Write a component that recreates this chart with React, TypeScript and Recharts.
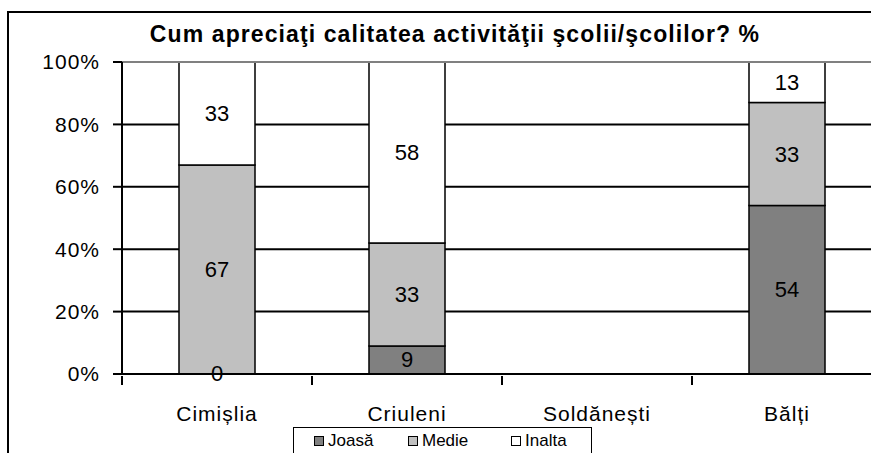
import { Bar, BarChart, CartesianGrid, LabelList, ReferenceLine, XAxis, YAxis } from "recharts";

const categories = ["Cimișlia", "Criuleni", "Soldănești", "Bălți"];
const joasa = [0, 9, null, 54];
const medie = [67, 33, null, 33];
const inalta = [33, 58, null, 13];
const yTicks = [0, 20, 40, 60, 80, 100];

const SERIES = [
  { key: "joasa", name: "Joasă", color: "#808080" },
  { key: "medie", name: "Medie", color: "#C0C0C0" },
  { key: "inalta", name: "Inalta", color: "#FFFFFF" },
];

const data = categories.map((name, i) => ({
  name,
  joasa: joasa[i],
  medie: medie[i],
  inalta: inalta[i],
}));

const FONT = "Arial, 'Liberation Sans', sans-serif";
const CHART_W = 900;
const PLOT_LEFT = 122;
const PLOT_RIGHT = 18;
const BAND = (CHART_W - PLOT_LEFT - PLOT_RIGHT) / categories.length;

function CategoryTick(props: any) {
  const { x, y, payload } = props;
  return (
    <g>
      <line x1={x - BAND / 2} y1={y} x2={x - BAND / 2} y2={y + 9} stroke="#000" strokeWidth={2} />
      <text
        x={x}
        y={y + 45}
        textAnchor="middle"
        fontFamily={FONT}
        fontSize={21}
        letterSpacing={1}
        fill="#000"
      >
        {payload.value}
      </text>
    </g>
  );
}

function renderLabel(props: any) {
  const { x, y, width, height, value } = props;
  if (value === null || value === undefined) return null;
  return (
    <text
      x={x + width / 2}
      y={y + height / 2}
      textAnchor="middle"
      dominantBaseline="central"
      fontFamily={FONT}
      fontSize={22}
      fill="#000"
    >
      {value}
    </text>
  );
}

// zero-valued segments still need a rect so their label gets drawn
const tinyForZero = (v: any) => (v === 0 ? 0.01 : 0);

export default function App() {
  return (
    <div
      style={{
        position: "absolute",
        left: 0,
        top: 0,
        width: 871,
        height: 453,
        overflow: "hidden",
        background: "#fff",
        fontFamily: FONT,
      }}
    >
      <div
        style={{
          position: "absolute",
          left: 7,
          top: 11,
          width: 950,
          height: 500,
          border: "2px solid #000",
          boxSizing: "border-box",
        }}
      />
      <div
        style={{
          position: "absolute",
          left: 455,
          top: 23,
          transform: "translateX(-50%)",
          whiteSpace: "nowrap",
          fontSize: 23,
          lineHeight: "23px",
          fontWeight: "bold",
          letterSpacing: 1.1,
        }}
      >
        Cum apreciaţi calitatea activităţii şcolii/şcolilor? %
      </div>
      <div style={{ position: "absolute", left: 0, top: 0 }}>
        <BarChart
          width={CHART_W}
          height={460}
          data={data}
          margin={{ top: 62, right: PLOT_RIGHT, bottom: 56, left: 0 }}
        >
          <CartesianGrid vertical={false} stroke="#000" strokeWidth={2} />
          <XAxis
            dataKey="name"
            height={30}
            axisLine={{ stroke: "#000", strokeWidth: 2 }}
            tickLine={false}
            tickSize={0}
            tick={<CategoryTick />}
            interval={0}
          />
          <YAxis
            width={PLOT_LEFT}
            domain={[0, 100]}
            ticks={yTicks}
            tickFormatter={(v: number) => `${v}%`}
            axisLine={{ stroke: "#000", strokeWidth: 2 }}
            tickLine={{ stroke: "#000", strokeWidth: 2 }}
            tickSize={9}
            tickMargin={13}
            tick={{ fill: "#000", fontFamily: FONT, fontSize: 21, letterSpacing: 1 }}
          />
          <ReferenceLine y={100} stroke="#808080" strokeWidth={2} />
          {SERIES.map((s) => (
            <Bar
              key={s.key}
              dataKey={s.key}
              name={s.name}
              stackId="a"
              fill={s.color}
              stroke="#000"
              strokeWidth={1.5}
              barSize={76}
              minPointSize={tinyForZero}
              isAnimationActive={false}
            >
              <LabelList dataKey={s.key} content={renderLabel} />
            </Bar>
          ))}
        </BarChart>
      </div>
      <div
        style={{
          position: "absolute",
          left: 293,
          top: 427,
          width: 299,
          height: 34,
          border: "1px solid #000",
          boxSizing: "border-box",
          fontSize: 17,
        }}
      >
        {SERIES.map((s, i) => (
          <div
            key={s.key}
            style={{
              position: "absolute",
              left: [20, 114, 217][i],
              top: 3,
              display: "flex",
              alignItems: "center",
              whiteSpace: "nowrap",
            }}
          >
            <span
              style={{
                display: "inline-block",
                width: 8,
                height: 8,
                border: "1px solid #000",
                background: s.color,
                marginRight: 4,
              }}
            />
            {s.name}
          </div>
        ))}
      </div>
    </div>
  );
}
